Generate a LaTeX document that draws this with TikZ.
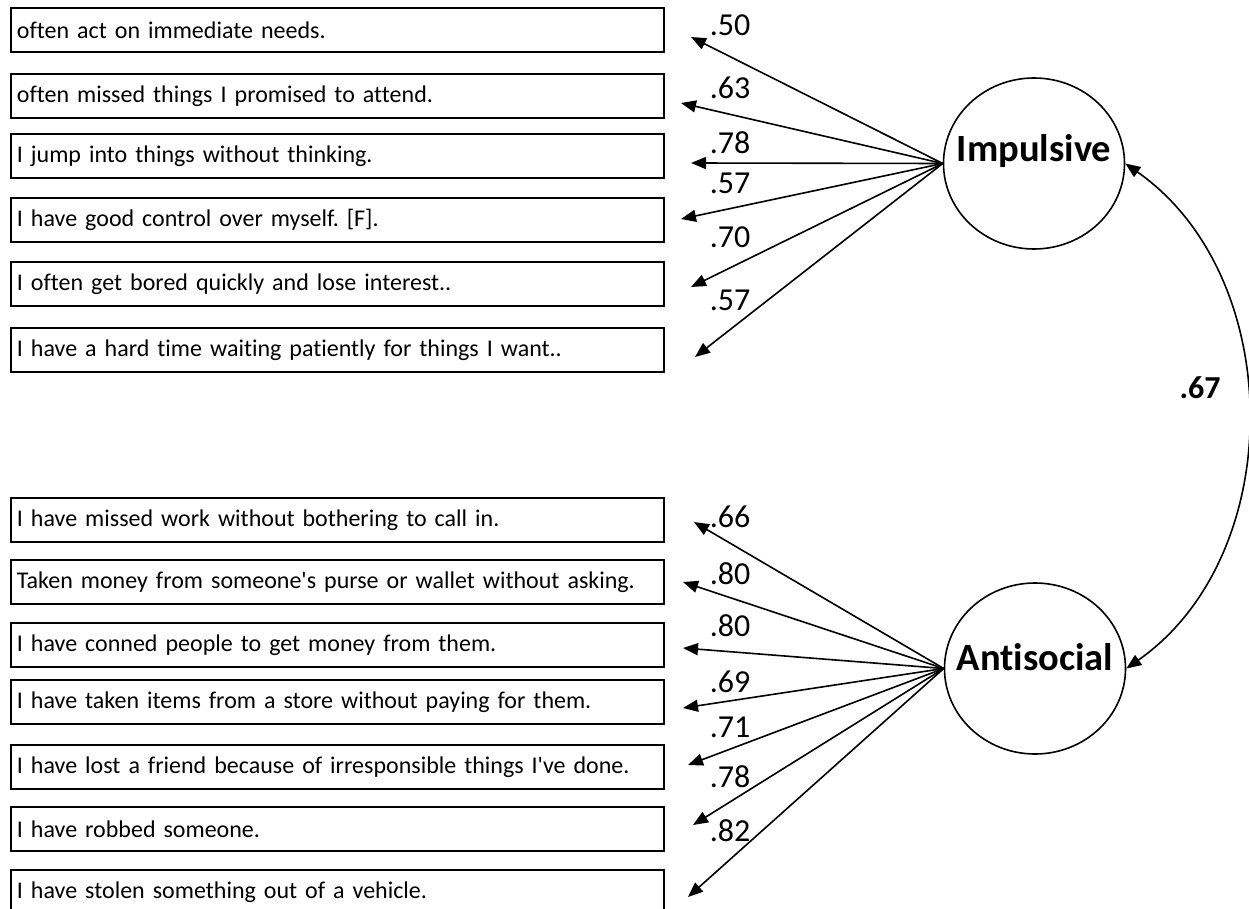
\documentclass[tikz,border=0pt]{standalone}
\usepackage{fontspec}
\setmainfont{Carlito}[Ligatures={NoCommon,TeXOff}]
\usetikzlibrary{arrows.meta,shapes.geometric}
\frenchspacing
\begin{document}
\begin{tikzpicture}[x=1pt,y=-1pt,
    item/.style={draw,line width=1.8pt,anchor=north west,minimum height=44pt,
      text width=641pt,inner xsep=6pt,inner ysep=0pt,align=left,
      font=\fontsize{24}{28}\selectfont},
    latent/.style={ellipse,draw,line width=1.6pt,minimum width=181pt,
      minimum height=171pt,inner sep=0pt},
    lname/.style={anchor=base,font=\bfseries\fontsize{38.5}{42}\selectfont},
    load/.style={font=\fontsize{32}{36}\selectfont},
    loadarrow/.style={line width=1.6pt,-{Triangle[length=15pt,width=12pt]}}]
    \useasboundingbox (0,0) rectangle (1249,909);
    % observed items, impulsive
    \node[item] (I1) at (10,7) {often act on immediate needs.};
    \node[item] (I2) at (10,73) {often missed things I promised to attend.};
    \node[item] (I3) at (10,133) {I jump into things without thinking.};
    \node[item] (I4) at (10,197) {I have good control over myself. [F].};
    \node[item] (I5) at (10,261) {I often get bored quickly and lose interest..};
    \node[item] (I6) at (10,327) {I have a hard time waiting patiently for things I want..};
    % observed items, antisocial
    \node[item] (A1) at (10,497) {I have missed work without bothering to call in.};
    \node[item] (A2) at (10,559) {Taken money from someone's purse or wallet without asking.};
    \node[item] (A3) at (10,622) {I have conned people to get money from them.};
    \node[item] (A4) at (10,679) {I have taken items from a store without paying for them.};
    \node[item] (A5) at (10,744) {I have lost a friend because of irresponsible things I've done.};
    \node[item] (A6) at (10,806) {I have robbed someone.};
    \node[item] (A7) at (10,869) {I have stolen something out of a vehicle.};
    % latent factors
    \node[latent] (Imp) at (1034,163.5) {};
    \node[lname] (ImpT) at (1034,162) {Impulsive};
    \node[latent] (Ant) at (1035,668.5) {};
    \node[lname] (AntT) at (1035,670) {Antisocial};
    % arrow tips
    \coordinate (tI1) at (691,37);
    \coordinate (tI2) at (681,103);
    \coordinate (tI3) at (691,163);
    \coordinate (tI4) at (681,219);
    \coordinate (tI5) at (691,287);
    \coordinate (tI6) at (695,357);
    \coordinate (tA1) at (694,522);
    \coordinate (tA2) at (683,582);
    \coordinate (tA3) at (683,648);
    \coordinate (tA4) at (683,708);
    \coordinate (tA5) at (688,765);
    \coordinate (tA6) at (693,825);
    \coordinate (tA7) at (688,897);
    \begin{scope}[loadarrow]
      \draw (Imp.west) -- (tI1);
      \draw (Imp.west) -- (tI2);
      \draw (Imp.west) -- (tI3);
      \draw (Imp.west) -- (tI4);
      \draw (Imp.west) -- (tI5);
      \draw (Imp.west) -- (tI6);
      \draw (Ant.west) -- (tA1);
      \draw (Ant.west) -- (tA2);
      \draw (Ant.west) -- (tA3);
      \draw (Ant.west) -- (tA4);
      \draw (Ant.west) -- (tA5);
      \draw (Ant.west) -- (tA6);
      \draw (Ant.west) -- (tA7);
    \end{scope}
    % loadings
    \node[load] (lI1) at (730,25) {.50};
    \node[load] (lI2) at (730,88) {.63};
    \node[load] (lI3) at (730,143) {.78};
    \node[load] (lI4) at (730,183) {.57};
    \node[load] (lI5) at (730,237) {.70};
    \node[load] (lI6) at (730,300) {.57};
    \node[load] (lA1) at (730,517) {.66};
    \node[load] (lA2) at (730,574) {.80};
    \node[load] (lA3) at (730,626) {.80};
    \node[load] (lA4) at (730,682) {.69};
    \node[load] (lA5) at (730,727) {.71};
    \node[load] (lA6) at (730,777) {.78};
    \node[load] (lA7) at (730,831) {.82};
    % correlation
    \draw[line width=1.6pt,{Triangle[length=15pt,width=12pt]}-{Triangle[length=15pt,width=12pt]}]
      (Imp.east) to[out=-35,in=35] (Ant.east);
    \node[font=\bfseries\fontsize{32}{36}\selectfont] (r) at (1200,388) {.67};
  \end{tikzpicture}
\end{document}
